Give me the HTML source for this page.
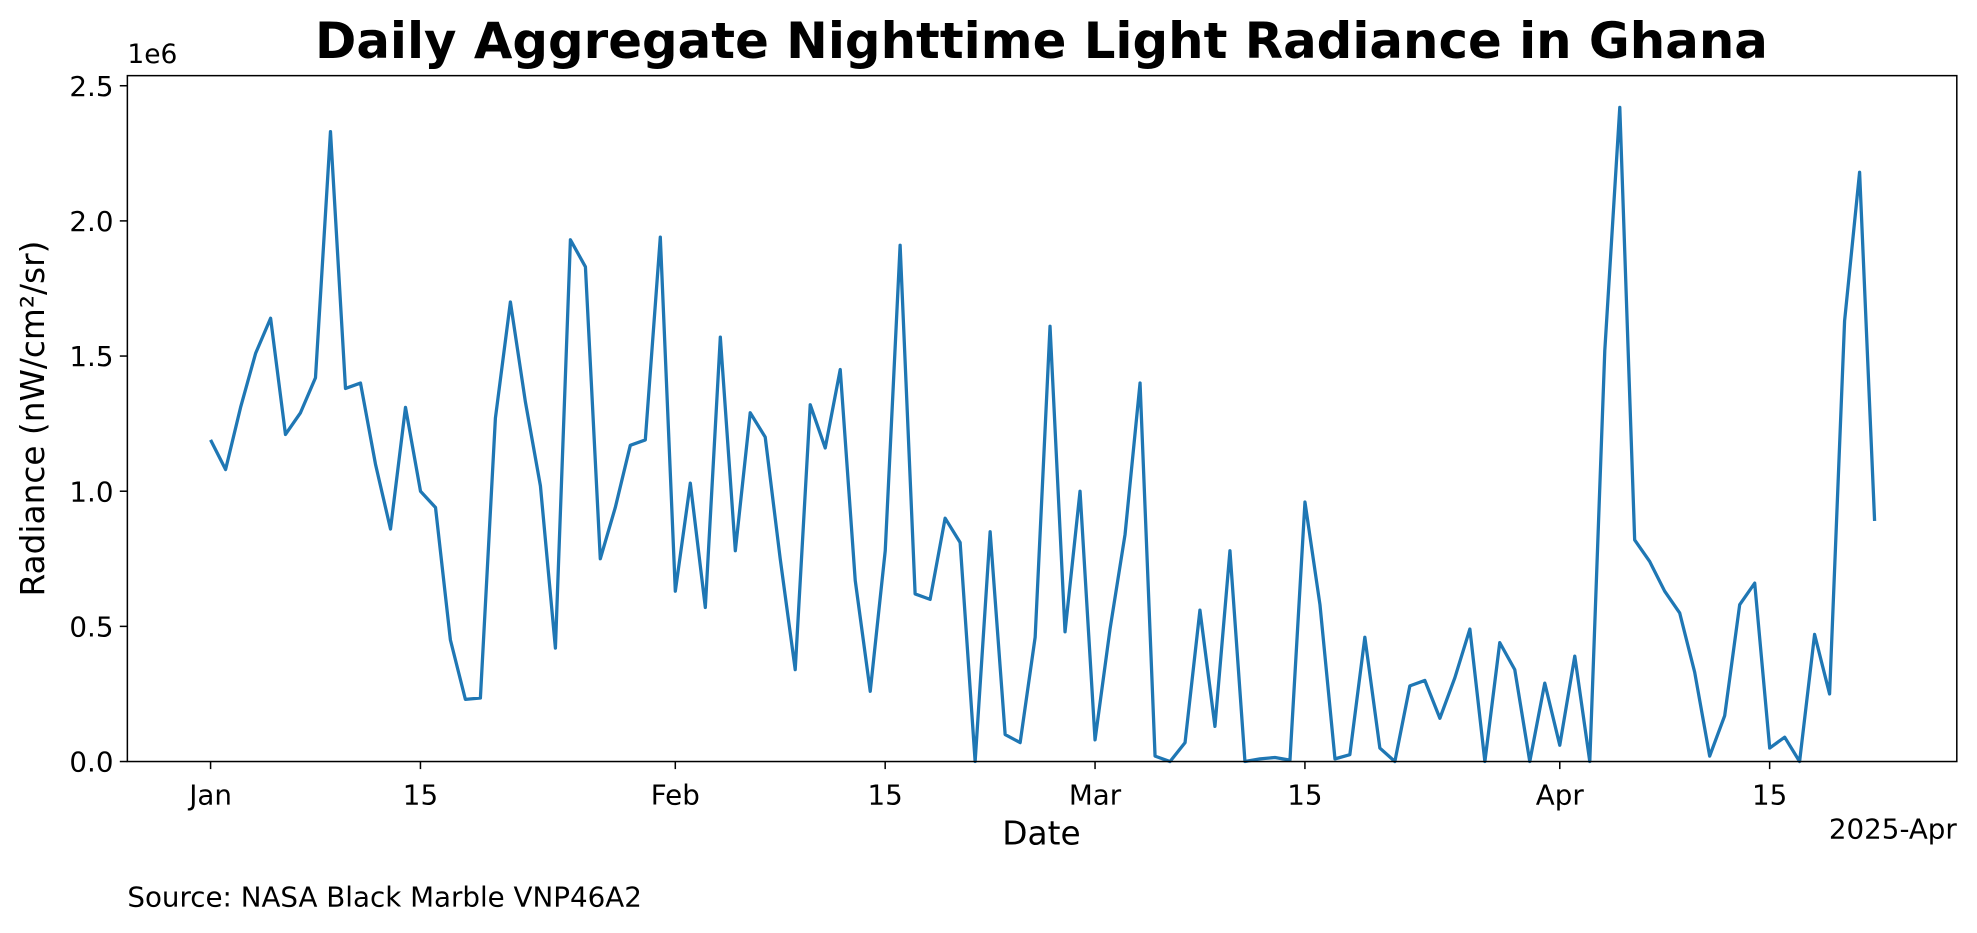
<!DOCTYPE html>
<html><head><meta charset="utf-8">
<style>
html,body{margin:0;padding:0;background:#fff;}
svg{display:block;}
svg text{font-family:"DejaVu Sans","Liberation Sans",sans-serif;fill:#000;}
</style></head>
<body>
<svg id="chart" width="1977" height="933" viewBox="0 0 1568 740" xmlns="http://www.w3.org/2000/svg">
<text x="826" y="46" font-size="39.5" font-weight="bold" text-anchor="middle">Daily Aggregate Nighttime Light Radiance in Ghana</text>
<g id="yaxis"></g>
<g id="xaxis"></g>
<path id="line" fill="none" stroke="#1f77b4" stroke-width="2.6" stroke-linejoin="round"/>
<rect x="101" y="60" width="1451" height="544" fill="none" stroke="#000" stroke-width="1.2"/>
<text x="101" y="50" font-size="21">1e6</text>
<text transform="translate(35,332) rotate(-90)" font-size="26" text-anchor="middle">Radiance (nW/cm²/sr)</text>
<text x="826" y="670" font-size="26" text-anchor="middle">Date</text>
<text x="1552" y="665" font-size="22" text-anchor="end">2025-Apr</text>
<text x="101" y="719" font-size="22">Source: NASA Black Marble VNP46A2</text>
</svg>
<script>
const values = [1.19,1.08,1.31,1.51,1.64,1.21,1.29,1.42,2.33,1.38,1.40,1.10,0.86,1.31,1.00,0.94,0.45,0.23,0.235,1.27,1.70,1.33,1.02,0.42,1.93,1.83,0.75,0.94,1.17,1.19,1.94,0.63,1.03,0.57,1.57,0.78,1.29,1.20,0.75,0.34,1.32,1.16,1.45,0.67,0.26,0.78,1.91,0.62,0.60,0.90,0.81,0.0,0.85,0.10,0.07,0.46,1.61,0.48,1.00,0.08,0.49,0.84,1.40,0.02,0.0,0.07,0.56,0.13,0.78,0.0,0.01,0.015,0.005,0.96,0.58,0.01,0.025,0.46,0.05,0.0,0.28,0.30,0.16,0.31,0.49,0.0,0.44,0.34,0.0,0.29,0.06,0.39,0.0,1.52,2.42,0.82,0.74,0.63,0.55,0.33,0.02,0.17,0.58,0.66,0.05,0.09,0.0,0.47,0.25,1.63,2.18,0.89];
const yTicks = [0,0.5,1.0,1.5,2.0,2.5];
const yTickLabels = ["0.0","0.5","1.0","1.5","2.0","2.5"];
const xTickDays = [0,14,31,45,59,73,90,104];
const xTickLabels = ["Jan","15","Feb","15","Mar","15","Apr","15"];
const NS="http://www.w3.org/2000/svg";
function x(d){return 167+d*11.89;}
function y(v){return 604-v*214.4;}
const ya=document.getElementById('yaxis');
yTicks.forEach((t,i)=>{
  const l=document.createElementNS(NS,'line');
  
  
  l.setAttribute('x1',95);l.setAttribute('x2',101);l.setAttribute('y1',y(t));l.setAttribute('y2',y(t));l.setAttribute('stroke','#000');l.setAttribute('stroke-width','1.2');
  ya.appendChild(l);
  const tx=document.createElementNS(NS,'text');
  
  
  tx.setAttribute('x',90);tx.setAttribute('y',y(t)+8);tx.setAttribute('font-size','22');tx.setAttribute('text-anchor','end');
  tx.textContent=yTickLabels[i];ya.appendChild(tx);
});
const xa=document.getElementById('xaxis');
xTickDays.forEach((d,i)=>{
  const l=document.createElementNS(NS,'line');
  
  
  l.setAttribute('x1',x(d));l.setAttribute('x2',x(d));l.setAttribute('y1',604);l.setAttribute('y2',610);l.setAttribute('stroke','#000');l.setAttribute('stroke-width','1.2');
  xa.appendChild(l);
  const tx=document.createElementNS(NS,'text');
  
  
  tx.setAttribute('x',x(d));tx.setAttribute('y',638);tx.setAttribute('font-size','22');tx.setAttribute('text-anchor','middle');
  tx.textContent=xTickLabels[i];xa.appendChild(tx);
});
document.getElementById('line').setAttribute('d',values.map((v,i)=>(i?'L':'M')+x(i).toFixed(1)+','+y(v).toFixed(1)).join(''));
</script>
</body></html>
